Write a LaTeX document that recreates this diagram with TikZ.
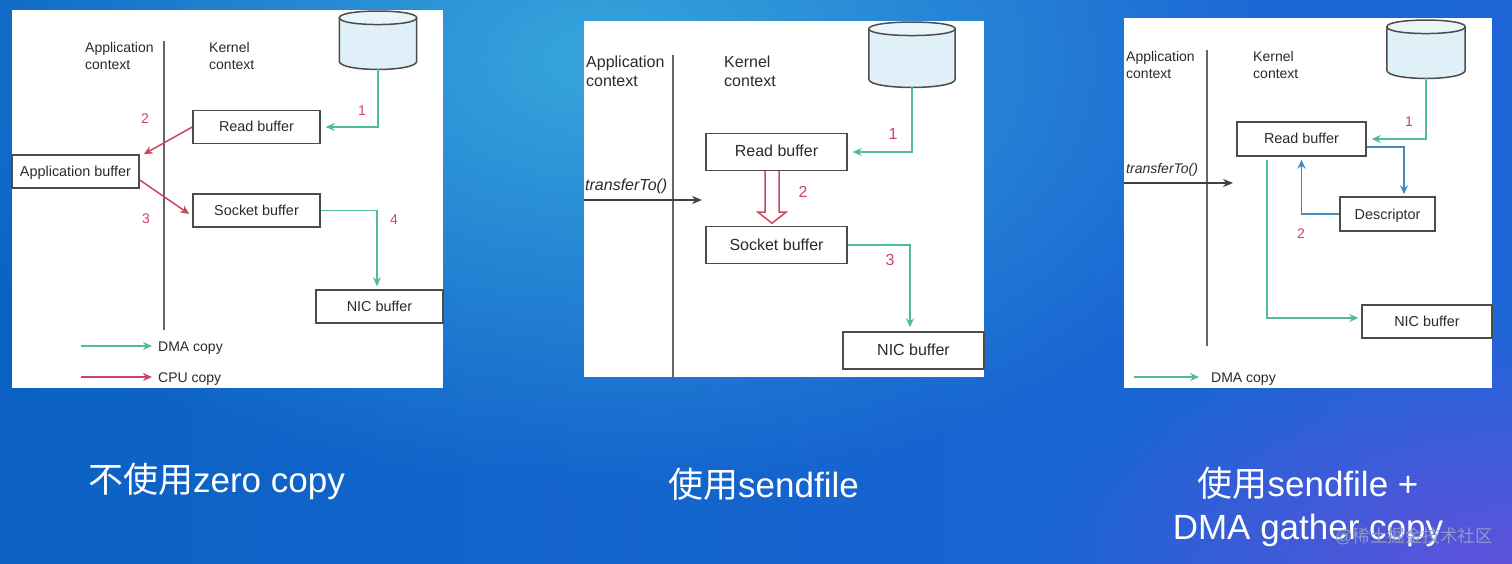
\documentclass[tikz,border=0pt]{standalone}
\usepackage{xcolor}
\usepackage{fontspec}
\setmainfont{Liberation Sans}
\newfontfamily\cjk{Noto Sans CJK SC}
\usetikzlibrary{
  arrows.meta,
  positioning,
  fadings
}
\definecolor{zcDMA}{HTML}{50BE8E}
\definecolor{zcCPU}{HTML}{CC4660}
\definecolor{zcDesc}{HTML}{3F8CC4}
\definecolor{zcInk}{HTML}{2B2B2B}
\definecolor{zcDisk}{HTML}{DFF0F8}
\definecolor{zcDiskTop}{HTML}{EAF5FA}
\definecolor{zcBgL}{HTML}{0C62C4}
\definecolor{zcBgM}{HTML}{0F70DC}
\definecolor{zcBgR}{HTML}{1E66D8}
\definecolor{zcGlow}{HTML}{36A6DC}
\definecolor{zcPurple}{HTML}{6052DC}
\definecolor{zcMark}{HTML}{8E9AC0}
\tikzfading[name=softglow, inner color=transparent!0, outer color=transparent!100]
\tikzset{
  panel/.style={fill=white, draw=none},
  buf/.style={draw=black!70, fill=white, line width=1.5pt, minimum width=127pt, minimum height=33pt, inner sep=0pt, text height=13pt, text depth=3pt, font=\fontsize{14.4}{17}\selectfont, text=zcInk},
  bigbuf/.style={buf, minimum width=141pt, minimum height=37pt, font=\fontsize{16}{19}\selectfont},
  disk/.style={draw=none, inner sep=0pt},
  diskline/.style={draw=black!70, line width=1.5pt, fill=zcDisk},
  disktop/.style={diskline, fill=zcDiskTop},
  ctx/.style={anchor=west, align=left, inner sep=0pt, text=zcInk, font=\fontsize{14}{17}\selectfont},
  bigctx/.style={ctx, font=\fontsize{16}{19}\selectfont},
  num/.style={inner sep=0pt, text=zcCPU, font=\fontsize{14}{16}\selectfont},
  bignum/.style={num, font=\fontsize{16}{18}\selectfont},
  legend/.style={anchor=west, inner sep=0pt, text height=13pt, text depth=3pt, text=zcInk, font=\fontsize{14}{17}\selectfont},
  caption/.style={align=center, inner sep=0pt, text=white, font=\fontsize{35}{43}\selectfont},
  divider/.style={draw=black!60, line width=1.8pt},
  dma/.style={-{Stealth[length=9pt,width=8pt]}, line width=1.6pt, zcDMA},
  cpu/.style={-{Stealth[length=9pt,width=8pt]}, line width=1.5pt, zcCPU},
  descflow/.style={-{Stealth[length=9pt,width=8pt]}, line width=1.6pt, zcDesc},
  call/.style={-{Stealth[length=10pt,width=8pt]}, line width=1.5pt, black!75},
  hollow/.style={draw=zcCPU, line width=1.5pt, fill=white}
}
\begin{document}
\begin{tikzpicture}[x=1pt, y=-1pt]
  \useasboundingbox (0,0) rectangle (1512,564);
  % background
  \begin{scope}
    \clip (0,0) rectangle (1512,564);
    \fill[left color=zcBgL, middle color=zcBgM, right color=zcBgR] (0,0) rectangle (1512,564);
    \fill[zcGlow, path fading=softglow] (600,60) ellipse [x radius=700pt, y radius=430pt];
    \fill[zcPurple, path fading=softglow] (1512,564) ellipse [x radius=480pt, y radius=240pt];
  \end{scope}
  \foreach \xa/\ya/\xb/\yb in {12/10/443/388, 584/21/984/377, 1124/18/1492/388}{
    \fill[panel] (\xa,\ya) rectangle (\xb,\yb);
  }
  \foreach \x/\ya/\yb in {164/41/330, 673/55/377, 1207/50/346}{
    \draw[divider] (\x,\ya) -- (\x,\yb);
  }

  % disks
  \node[disk, minimum width=77pt, minimum height=58pt] (diskA) at (378,40) {};
  \node[disk, minimum width=86pt, minimum height=65pt] (diskB) at (912,54.5) {};
  \node[disk, minimum width=78pt, minimum height=58pt] (diskC) at (1426,49) {};
  \foreach \d in {diskA, diskB, diskC}{
    \draw[diskline] ([yshift=-7pt]\d.north west) -- ([yshift=8pt]\d.south west)
      .. controls +(0,11) and +(0,11) .. ([yshift=8pt]\d.south east) -- ([yshift=-7pt]\d.north east);
    \draw[disktop] ([yshift=-7pt]\d.north west)
      .. controls +(0,-9) and +(0,-9) .. ([yshift=-7pt]\d.north east)
      .. controls +(0,9) and +(0,9) .. ([yshift=-7pt]\d.north west) -- cycle;
  }

  % without zero copy
  \node[buf] (readA) at (256.5,127) {Read buffer};
  \node[buf] (appA) at (75.5,171.5) {Application buffer};
  \node[buf, below=49pt of readA] (socketA) {Socket buffer};
  \node[buf] (nicA) at (379.5,306.5) {NIC buffer};
  \node[ctx] (appctxA) at (85,55.5) {Application\\context};
  \node[ctx] (kernctxA) at (209,55.5) {Kernel\\context};
  \draw[dma, shorten >=5pt] (diskA.south) |- (readA.east);
  \draw[cpu] (readA.west) -- ([xshift=4pt]appA.north east);
  \draw[cpu] ([yshift=-8.5pt]appA.east) -- ([xshift=-3pt,yshift=-3.5pt]socketA.west);
  \draw[dma, shorten >=3pt] (socketA.east) -| ([xshift=-2.5pt]nicA.north);
  \node[num] (n1A) at (362,111) {1};
  \node[num] (n2A) at (145,119) {2};
  \node[num] (n3A) at (146,219) {3};
  \node[num] (n4A) at (394,220) {4};
  \node[legend] (dmaA) at (158,346) {DMA copy};
  \node[legend] (cpuA) at (158,377) {CPU copy};
  \coordinate (dmaAs) at (81,346);
  \coordinate (cpuAs) at (81,377);
  \draw[dma, shorten >=6pt] (dmaAs) -- (dmaA.west);
  \draw[cpu, shorten >=6pt] (cpuAs) -- (cpuA.west);

  % sendfile
  \node[bigbuf] (readB) at (776.5,152) {Read buffer};
  \node[bigbuf, below=54.5pt of readB] (socketB) {Socket buffer};
  \node[bigbuf] (nicB) at (913.5,350.5) {NIC buffer};
  \node[bigctx] (appctxB) at (586,71.5) {Application\\context};
  \node[bigctx] (kernctxB) at (724,71.5) {Kernel\\context};
  \node[bigctx] (callB) at (585,186) {\itshape transferTo()};
  \coordinate (callBs) at (584,200);
  \coordinate (callBe) at (702,200);
  \draw[call] (callBs) -- (callBe);
  \draw[dma, shorten >=5pt] (diskB.south) |- (readB.east);
  \draw[hollow] ([xshift=-11.5pt]readB.south) -- ++(0,41) -- ++(-7,0) -- ++(14,11)
    -- ++(14,-11) -- ++(-7,0) -- ++(0,-41);
  \draw[dma, shorten >=4pt] (socketB.east) -| ([xshift=-3.5pt]nicB.north);
  \node[bignum] (n1B) at (893,134) {1};
  \node[bignum] (n2B) at (803,192) {2};
  \node[bignum] (n3B) at (890,260) {3};

  % sendfile + DMA gather copy
  \node[buf, minimum width=129pt, minimum height=34pt] (readC) at (1301.5,139) {Read buffer};
  \node[buf, minimum width=95pt, minimum height=34pt] (descC) at (1387.5,214) {Descriptor};
  \node[buf, minimum width=130pt] (nicC) at (1427,321.5) {NIC buffer};
  \node[ctx] (appctxC) at (1126,64.5) {Application\\context};
  \node[ctx] (kernctxC) at (1253,64.5) {Kernel\\context};
  \node[ctx] (callC) at (1126,170) {\itshape transferTo()};
  \coordinate (callCs) at (1124,183);
  \coordinate (callCe) at (1233,183);
  \draw[call] (callCs) -- (callCe);
  \draw[dma, shorten >=5pt] (diskC.south) |- (readC.east);
  \draw[descflow, shorten >=2pt] ([yshift=-8pt]readC.east) -| ([xshift=16.5pt]descC.north);
  \draw[descflow, shorten >=3pt] (descC.west) -| (readC.south);
  \draw[dma, shorten >=3pt] ([xshift=-34.5pt,yshift=-3pt]readC.south) |- ([yshift=3.5pt]nicC.west);
  \node[num] (n1C) at (1409,122) {1};
  \node[num] (n2C) at (1301,234) {2};
  \node[legend] (dmaC) at (1211,377) {DMA copy};
  \coordinate (dmaCs) at (1134,377);
  \draw[dma, shorten >=12pt] (dmaCs) -- (dmaC.west);

  % captions
  \node[caption] (capA) at (216.5,481) {{\cjk 不使用}zero copy};
  \node[caption] (capB) at (763.5,484) {{\cjk 使用}sendfile};
  \node[caption] (capC) at (1308,506.5) {{\cjk 使用}sendfile +\\DMA gather copy};
  \node[inner sep=0pt, text=zcMark, font=\fontsize{17.5}{20}\selectfont] (mark) at (1414,536) {@{\cjk 稀土掘金技术社区}};
\end{tikzpicture}
\end{document}
